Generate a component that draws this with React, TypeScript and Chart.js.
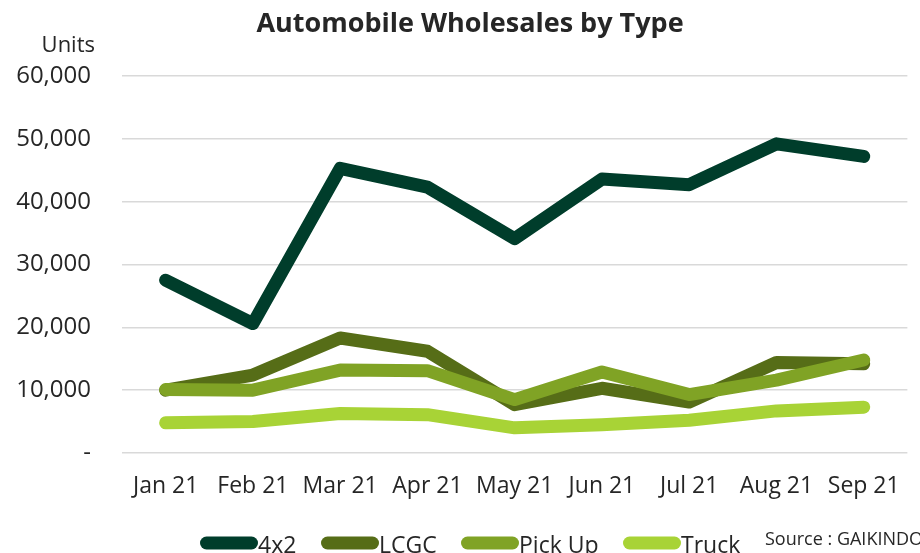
import React, { useEffect, useRef } from "react";
import { Chart, registerables } from "chart.js";

Chart.register(...registerables);

const categories = ["Jan 21", "Feb 21", "Mar 21", "Apr 21", "May 21", "Jun 21", "Jul 21", "Aug 21", "Sep 21"];
const series4x2 = [27500, 20600, 45300, 42300, 34100, 43600, 42700, 49200, 47200];
const seriesLCGC = [10000, 12400, 18300, 16200, 7700, 10300, 8100, 14400, 14200];
const seriesPickUp = [10100, 10000, 13200, 13100, 8500, 12900, 9300, 11600, 14800];
const seriesTruck = [4800, 5000, 6300, 6100, 4000, 4500, 5200, 6700, 7300];
const seriesNames = ["4x2", "LCGC", "Pick Up", "Truck"];
const seriesColors = ["#003D2B", "#566D17", "#80A325", "#A8D336"];
const yTicks = [0, 10000, 20000, 30000, 40000, 50000, 60000];

const FONT = "'Open Sans', 'Noto Sans', sans-serif";
const legendStarts = [200, 321, 461, 623];

const overlayPlugin = {
  id: "overlay",
  afterDraw(chart: any) {
    const ctx = chart.ctx;
    ctx.save();
    ctx.fillStyle = "#262626";
    ctx.textBaseline = "middle";
    ctx.font = `bold 27px ${FONT}`;
    ctx.textAlign = "center";
    ctx.fillText("Automobile Wholesales by Type", 470, 24);
    ctx.font = `22px ${FONT}`;
    ctx.textAlign = "right";
    ctx.fillText("Units", 95, 46);
    // legend
    ctx.textAlign = "left";
    ctx.font = `23px ${FONT}`;
    const y = 543;
    chart.data.datasets.forEach((ds: any, i: number) => {
      const x = legendStarts[i];
      ctx.strokeStyle = ds.borderColor;
      ctx.lineWidth = 13;
      ctx.lineCap = "round";
      ctx.beginPath();
      ctx.moveTo(x + 6.5, y);
      ctx.lineTo(x + 51.5, y);
      ctx.stroke();
      ctx.fillStyle = "#262626";
      ctx.fillText(ds.label, x + 58, y + 3);
    });
    ctx.font = `18px ${FONT}`;
    ctx.fillText("Source : GAIKINDO", 765, 540);
    ctx.restore();
  },
};

export default function App() {
  const ref = useRef<HTMLCanvasElement>(null);
  useEffect(() => {
    if (!ref.current) return;
    const all = [series4x2, seriesLCGC, seriesPickUp, seriesTruck];
    const chart = new Chart(ref.current, {
      type: "line",
      data: {
        labels: categories,
        datasets: all.map((d, i) => ({
          label: seriesNames[i],
          data: d,
          borderColor: seriesColors[i],
          backgroundColor: seriesColors[i],
          borderWidth: 13,
          pointRadius: 0,
          tension: 0,
          borderCapStyle: "round" as const,
          borderJoinStyle: "round" as const,
          order: 4 - i,
        })),
      },
      options: {
        animation: false,
        responsive: false,
        maintainAspectRatio: false,
        layout: { padding: { top: 76, right: 6, left: 0, bottom: 0 } },
        plugins: {
          legend: { display: false },
          title: { display: false },
          tooltip: { enabled: false },
        },
        scales: {
          x: {
            type: "category",
            offset: true,
            grid: { display: false, drawTicks: false },
            border: { display: false },
            ticks: { color: "#262626", font: { family: FONT, size: 23 }, padding: 20, maxRotation: 0, autoSkip: false },
            afterFit(axis: any) {
              axis.height = 100;
            },
          },
          y: {
            min: 0,
            max: 60000,
            afterBuildTicks(axis: any) {
              axis.ticks = yTicks.map((v) => ({ value: v }));
            },
            grid: { color: "#D9D9D9", lineWidth: 1.5, drawTicks: false },
            border: { display: false },
            ticks: {
              color: "#262626",
              font: { family: FONT, size: 24 },
              padding: 31,
              callback: (v: any) => (Number(v) === 0 ? "-" : Number(v).toLocaleString("en-US")),
            },
            afterFit(axis: any) {
              axis.width = 122;
            },
          },
        },
      },
      plugins: [overlayPlugin],
    });
    return () => chart.destroy();
  }, []);
  return (
    <div style={{ position: "absolute", left: 0, top: 0, width: 920, height: 553, background: "#fff" }}>
      <canvas ref={ref} width={920} height={553} style={{ width: 920, height: 553 }} />
    </div>
  );
}
